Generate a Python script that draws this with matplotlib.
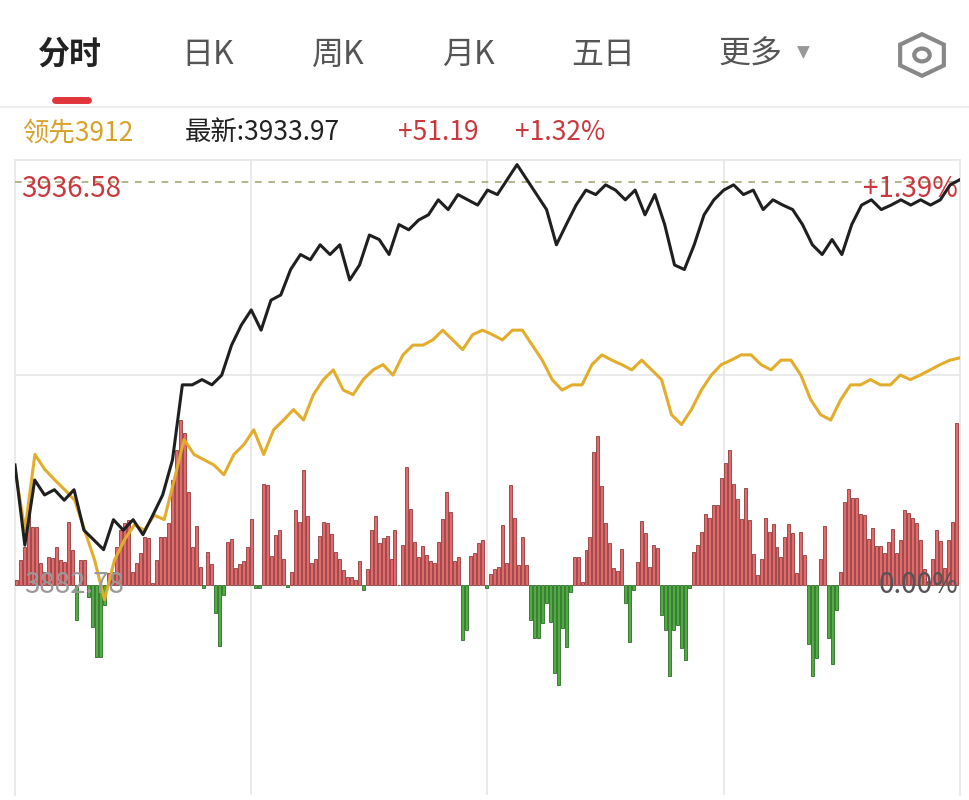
import numpy as np
import matplotlib
matplotlib.use("Agg")
import matplotlib.pyplot as plt
from matplotlib.patches import RegularPolygon, Circle

plt.rcParams['font.family'] = ['Noto Sans CJK SC', 'DejaVu Sans']

prev_close = 3882.78
high_price = 3936.58
tabs = ["分时", "日K", "周K", "月K", "五日", "更多"]

price = [3898.8, 3888.1, 3896.8, 3894.8, 3895.5, 3894.1, 3895.5, 3890.1, 3888.8, 3887.5,
         3891.5, 3890.1, 3891.5, 3889.5, 3892.1, 3894.8, 3899.5, 3909.5, 3909.5, 3910.2,
         3909.5, 3910.8, 3914.8, 3917.5, 3919.5, 3916.8, 3920.8, 3921.5, 3924.9, 3926.9,
         3926.2, 3928.2, 3926.9, 3928.2, 3923.5, 3925.5, 3929.5, 3928.9, 3926.9, 3930.9,
         3930.2, 3931.5, 3932.2, 3934.2, 3932.9, 3934.9, 3934.2, 3933.5, 3935.5, 3934.9,
         3936.9, 3938.9, 3936.9, 3934.9, 3932.9, 3928.2, 3930.9, 3933.5, 3935.5, 3934.9,
         3936.2, 3935.5, 3934.2, 3935.5, 3932.2, 3934.9, 3930.9, 3925.5, 3924.9, 3928.2,
         3932.2, 3934.2, 3935.5, 3936.2, 3934.9, 3935.5, 3932.9, 3934.2, 3933.5, 3932.9,
         3930.9, 3928.2, 3926.9, 3928.9, 3926.9, 3930.9, 3933.5, 3934.2, 3932.9, 3933.5,
         3934.2, 3933.5, 3934.2, 3933.5, 3934.2, 3936.2, 3936.9]

avg_price = [3898.2, 3890.1, 3900.2, 3898.2, 3896.8, 3895.5, 3894.1, 3890.1, 3886.1, 3880.8,
             3886.1, 3888.8, 3890.8, 3890.1, 3892.1, 3891.5, 3896.8, 3902.2, 3900.2, 3899.5,
             3898.8, 3897.5, 3900.2, 3901.5, 3903.5, 3900.2, 3903.5, 3904.8, 3906.2, 3904.8,
             3908.2, 3910.2, 3911.5, 3908.8, 3908.2, 3910.2, 3911.5, 3912.2, 3910.8, 3913.5,
             3914.8, 3914.8, 3915.5, 3916.8, 3915.5, 3914.2, 3916.2, 3916.8, 3916.2, 3915.5,
             3916.8, 3916.8, 3914.8, 3912.8, 3910.2, 3908.8, 3909.5, 3909.5, 3912.2, 3913.5,
             3912.8, 3912.2, 3911.5, 3912.8, 3911.5, 3910.2, 3905.5, 3904.2, 3906.2, 3908.8,
             3910.8, 3912.2, 3912.8, 3913.5, 3913.5, 3912.2, 3911.5, 3912.8, 3912.8, 3910.8,
             3907.5, 3905.5, 3904.8, 3907.5, 3909.5, 3909.5, 3910.2, 3909.5, 3909.5, 3910.8,
             3910.2, 3910.8, 3911.5, 3912.2, 3912.8, 3913.1]

flow = [5, 25,
        38, 82, 58, 58, 22, 13, 28, 27, 38, 25, 23, 63, 35, -35, 25, 25, -12, -42, -72, -72,
        -20, 12, 13, 38, 55, 62, 65, 13, 22, 32, 48, 47, 2, 25, 48, 48, 62, 105, 135,
        165, 152, 93, 38, 59, 18, -3, 33, 21, -28, -61, -10, 43, 46, 17, 21, 24, 38, 66, -3,
        -3, 101, 100, 29, 50, 55, 26, -2, 13, 75, 63, 115, 69, 22, 26, 49, 63, 62, 51, 33,
        26, 15, 8, 8, 5, 24, -5, 16, 55, 69, 42, 47, 49, 26, 55, 0, 40, 118, 76, 43, 28,
        39, 30, 24, 22, 43, 66, 93, 73, 24, 28, -55, -45, 29, 32, 42,
        45, -3, 11, 16, 18, 60, 22, 100, 67, 20, 48, 20, -35, -53, -53, -38, -18, -37, -88,
        -100, -43, -62, -7, 28, 28, 3, 35, 48, 133, 149, 99, 62, 42, 17, 14, 36, -18, -57,
        -5, 23, 64, 52, 18, 40, 37, -30, -45, -91, -45, -40, -63, -75, -3, 33, 40, 53, 71,
        67, 80, 80,
        107, 122, 135, 101, 86, 66, 97, 65, 31, 10, 26, 67, 53, 61, 38, 28, 48, 61, 52, 12,
        53, 30, -59, -91, -73, 26, 59, -53, -79, -25, 13, 83, 96, 87, 87, 71, 70, 46, 57, 39,
        39, 32, 43, 56, 32, 45, 75, 72, 67, 62, 45, 16, 4, 26, 55, 44, 17, 45, 63, 162]

W, H = 970, 800
fig = plt.figure(figsize=(W / 100, H / 100), dpi=100)
fig.patch.set_facecolor("white")

L, R, T, B = 15, 960, 160, 795
ax = fig.add_axes([L / W, 1 - B / H, (R - L) / W, (B - T) / H])
px = 0.1335
ax.set_ylim(prev_close - (B - 585) * px, prev_close + (585 - T) * px)
ax.set_xlim(0, 240)
for s in ax.spines.values():
    s.set_color("#e6e6e6")
    s.set_linewidth(1.2)
ax.spines['bottom'].set_visible(False)
ax.set_xticks([])
ax.set_yticks([])
for xv in (60, 120, 180):
    ax.axvline(xv, color="#e6e6e6", lw=1.2, zorder=0)
ax.axhline(prev_close + (585 - 375) * px, color="#e6e6e6", lw=1.2, zorder=0)

ax2 = ax.twinx()
ax2.set_ylim(-(B - 585), 585 - T)
ax2.set_yticks([])
for s in ax2.spines.values():
    s.set_visible(False)
n = len(flow)
bx = np.linspace(0.5, 239, n)
fl = np.array(flow, dtype=float)
cols = np.where(fl >= 0, "#e8676b", "#4caf3e")
edge = np.where(fl >= 0, "#8a3c3c", "#2f6b2a")
ax2.bar(bx, fl, width=240 / n * 0.75, color=cols, edgecolor=edge, linewidth=0.6, zorder=1)

ax3 = ax.twinx()
ax3.set_ylim(ax.get_ylim())
ax3.set_yticks([])
for s in ax3.spines.values():
    s.set_visible(False)
ax3.plot(np.linspace(0, 240, len(avg_price)), avg_price, color="#e2ad2b", lw=2.2, zorder=3)
ax3.plot(np.linspace(0, 240, len(price)), price, color="#1f1f1f", lw=2.2, zorder=4)
ax3.axhline(high_price, color="#a8a878", lw=1.2, ls=(0, (4, 4)), zorder=2)

pct_hi = (high_price - prev_close) / prev_close * 100
ax3.text(0.007, 0.955, f"{high_price:.2f}", transform=ax3.transAxes, color="#c8383c",
         fontsize=20, va="center", ha="left")
ax3.text(0.998, 0.955, f"+{pct_hi:.2f}%", transform=ax3.transAxes, color="#c8383c",
         fontsize=20, va="center", ha="right")
ax3.text(0.01, 1 - (585 - T) / (B - T), f"{prev_close:.2f}", transform=ax3.transAxes,
         color="#9a9a9a", fontsize=20, va="center", ha="left", zorder=6)
ax3.text(0.998, 1 - (585 - T) / (B - T), "0.00%", transform=ax3.transAxes,
         color="#555555", fontsize=20, va="center", ha="right", zorder=6)

# header
tab_x = [70, 208, 338, 468, 603, 750]
for i, (t, x) in enumerate(zip(tabs, tab_x)):
    fig.text(x / W, 1 - 55 / H, t, ha="center", va="center", fontsize=23,
             color="#222222" if i == 0 else "#555555",
             fontweight="bold" if i == 0 else "normal")
fig.text(803 / W, 1 - 53 / H, "▼", ha="center", va="center", fontsize=12, color="#999999",
         family="DejaVu Sans")
fig.patches.append(RegularPolygon((922 / W, 1 - 55 / H), 6, radius=0.026, orientation=0,
                                  transform=fig.transFigure, fill=False, ec="#888888", lw=3))
fig.patches.append(plt.Circle((922 / W, 1 - 55 / H), 0.008, transform=fig.transFigure,
                              fill=False, ec="#888888", lw=3))
fig.add_artist(plt.Line2D([55 / W, 88 / W], [1 - 100 / H] * 2, color="#e0353b", lw=5,
                          solid_capstyle="round"))
fig.add_artist(plt.Line2D([0, 1], [1 - 107 / H] * 2, color="#eeeeee", lw=1.5))

fig.text(22 / W, 1 - 133 / H, "领先3912", ha="left", va="center", fontsize=19, color="#d6a22a")
fig.text(185 / W, 1 - 133 / H, "最新:3933.97", ha="left", va="center", fontsize=19, color="#222222")
fig.text(398 / W, 1 - 133 / H, "+51.19", ha="left", va="center", fontsize=19, color="#c8383c")
fig.text(515 / W, 1 - 133 / H, "+1.32%", ha="left", va="center", fontsize=19, color="#c8383c")

fig.savefig("out.png", dpi=100)
